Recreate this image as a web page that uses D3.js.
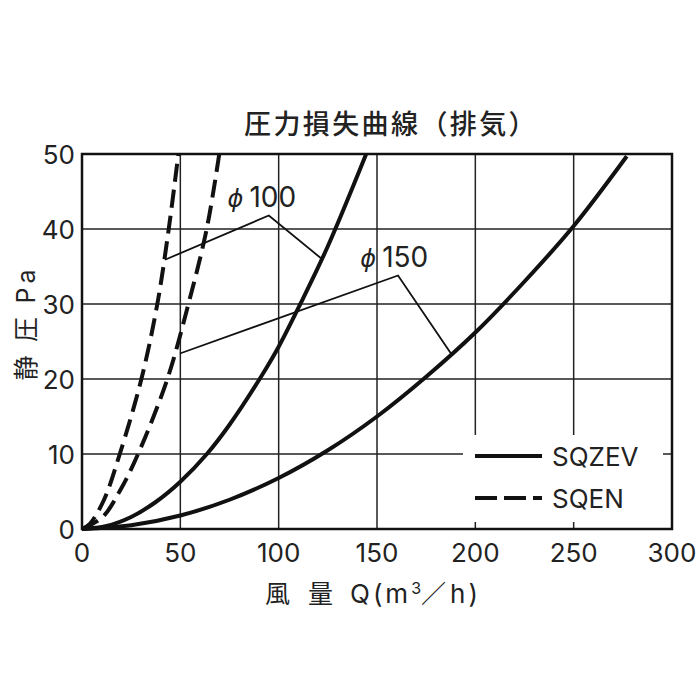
<!DOCTYPE html>
<html>
<head>
    <meta charset="utf-8">
    <script src="https://cdnjs.cloudflare.com/ajax/libs/d3/7.8.5/d3.min.js"></script>
    <style>
        body { margin: 0; background: #fff; }
        .grid line { stroke: #222; stroke-width: 1.5; }
        .curve { fill: none; stroke: #111; stroke-width: 4; }
        .dashed { stroke-dasharray: 18,8; }
        .leader { fill: none; stroke: #111; stroke-width: 1.8; }
        .latin { font-family: Inter, "Liberation Sans", Arial, sans-serif; font-size: 26px; fill: #222; }
        .jp { font-family: "Noto Sans CJK JP", sans-serif; fill: #222; }
    </style>
</head>
<body>
    <svg width="700" height="700"></svg>
    <script>
        // Axis ticks
        const qTicks = [0, 50, 100, 150, 200, 250, 300];
        const pTicks = [0, 10, 20, 30, 40, 50];

        // SQZEV (solid) curves
        const zev100Q = [0, 12.5, 25, 37.5, 50, 63.5, 75, 91.5, 100, 111, 125, 144.5];
        const zev100P = [0, 0.4, 1.6, 3.6, 6.3, 10, 13.9, 20.5, 24.3, 30, 37.7, 50];
        const zev150Q = [0, 25, 50, 75, 100, 125, 150, 175, 200, 225, 250, 277];
        const zev150P = [0, 0.5, 1.8, 3.9, 6.8, 10.5, 15, 20.3, 26.2, 33, 40.4, 49.7];

        // SQEN (dashed) curves
        const en100Q = [0, 4, 11.2, 19.2, 30.2, 38.3, 44.1, 49];
        const en100P = [0, 0.7, 3.9, 10, 20, 30, 40, 50];
        const en150Q = [0, 10.5, 19.5, 28.5, 43.4, 54.1, 63.4, 69.8];
        const en150P = [0, 1.6, 5.2, 10, 20, 30, 40, 50];

        // Leader lines for the size labels
        const leader100 = [[42.2, 35.9], [95, 41.8], [122, 36]];
        const leader150 = [[49.8, 23.4], [160.7, 33.8], [187.6, 23.4]];

        const svg = d3.select("svg");

        const x = d3.scaleLinear().domain([0, 300]).range([82, 672]);
        const y = d3.scaleLinear().domain([0, 50]).range([529, 154]);

        // Title
        svg.append("text")
            .attr("class", "jp")
            .attr("x", 244)
            .attr("y", 134)
            .style("font-size", "27px")
            .style("font-weight", 500)
            .style("letter-spacing", "2.4px")
            .text("圧力損失曲線（排気）");

        // Grid
        svg.append("g")
            .attr("class", "grid")
            .selectAll("line")
            .data(qTicks.slice(1, -1))
            .join("line")
            .attr("x1", d => x(d)).attr("x2", d => x(d))
            .attr("y1", y(0)).attr("y2", y(50));

        svg.append("g")
            .attr("class", "grid")
            .selectAll("line")
            .data(pTicks.slice(1, -1))
            .join("line")
            .attr("x1", x(0)).attr("x2", x(300))
            .attr("y1", d => y(d)).attr("y2", d => y(d));

        // Tick labels
        svg.append("g")
            .selectAll("text")
            .data(qTicks)
            .join("text")
            .attr("class", "latin")
            .attr("x", d => x(d))
            .attr("y", 562)
            .attr("text-anchor", "middle")
            .text(d => d);

        svg.append("g")
            .selectAll("text")
            .data(pTicks)
            .join("text")
            .attr("class", "latin")
            .attr("x", 75)
            .attr("y", d => y(d) + 9.5)
            .attr("text-anchor", "end")
            .text(d => d);

        // Axis labels
        const yLab = svg.append("text")
            .attr("transform", "translate(35,323) rotate(-90)")
            .attr("text-anchor", "middle")
            .style("letter-spacing", "4px");
        yLab.append("tspan").attr("class", "jp").style("font-size", "25px").text("静 圧 ");
        yLab.append("tspan").attr("class", "latin").style("font-size", "25px").text("Pa");

        const xLab = svg.append("text").attr("y", 603);
        xLab.append("tspan").attr("class", "jp").attr("x", 265).style("font-size", "25px").text("風");
        xLab.append("tspan").attr("class", "jp").attr("x", 308).style("font-size", "25px").text("量");
        xLab.append("tspan").attr("class", "latin").attr("x", 350).style("letter-spacing", "3px").text("Q(m");
        xLab.append("tspan").attr("class", "latin").attr("dy", -9).style("font-size", "16px").text("3");
        xLab.append("tspan").attr("class", "jp").attr("dy", 9).style("font-size", "25px").text("／");
        xLab.append("tspan").attr("class", "latin").attr("dx", 4).style("letter-spacing", "3px").text("h)");

        // Curves
        const line = d3.line()
            .x(d => x(d[0]))
            .y(d => y(d[1]))
            .curve(d3.curveCatmullRom.alpha(0.5));

        const series = [
            { q: zev100Q, p: zev100P, dashed: false },
            { q: zev150Q, p: zev150P, dashed: false },
            { q: en100Q, p: en100P, dashed: true },
            { q: en150Q, p: en150P, dashed: true }
        ];

        svg.append("g")
            .selectAll("path")
            .data(series)
            .join("path")
            .attr("class", d => d.dashed ? "curve dashed" : "curve")
            .attr("d", d => line(d.q.map((v, i) => [v, d.p[i]])));

        // Leaders and labels
        const straight = d3.line().x(d => x(d[0])).y(d => y(d[1]));
        svg.append("g")
            .selectAll("path")
            .data([leader100, leader150])
            .join("path")
            .attr("class", "leader")
            .attr("d", straight);

        const labels = [
            { q: 74, p: 43, size: "100" },
            { q: 141.5, p: 35, size: "150" }
        ];
        const lbl = svg.append("g")
            .selectAll("text")
            .data(labels)
            .join("text")
            .attr("class", "latin")
            .attr("x", d => x(d.q))
            .attr("y", d => y(d.p))
            .style("font-size", "28px");
        lbl.append("tspan")
            .style("font-family", "'DejaVu Sans', sans-serif")
            .style("font-style", "italic")
            .style("font-size", "24px")
            .text("ϕ");
        lbl.append("tspan").attr("dx", 6).text(d => d.size);

        // Legend
        const legend = svg.append("g");
        legend.append("rect")
            .attr("x", 463).attr("y", 435)
            .attr("width", 200).attr("height", 87)
            .attr("fill", "#fff");
        legend.append("line")
            .attr("class", "curve")
            .attr("x1", 475).attr("x2", 542)
            .attr("y1", 456).attr("y2", 456);
        legend.append("line")
            .attr("class", "curve")
            .style("stroke-dasharray", "22,7")
            .attr("x1", 475).attr("x2", 542)
            .attr("y1", 498).attr("y2", 498);
        legend.append("text")
            .attr("class", "latin")
            .attr("x", 552).attr("y", 466)
            .text("SQZEV");
        legend.append("text")
            .attr("class", "latin")
            .attr("x", 552).attr("y", 508)
            .text("SQEN");

        // Frame
        svg.append("rect")
            .attr("x", x(0)).attr("y", y(50))
            .attr("width", x(300) - x(0))
            .attr("height", y(0) - y(50))
            .attr("fill", "none")
            .attr("stroke", "#111")
            .attr("stroke-width", 2.5);
    </script>
</body>
</html>
